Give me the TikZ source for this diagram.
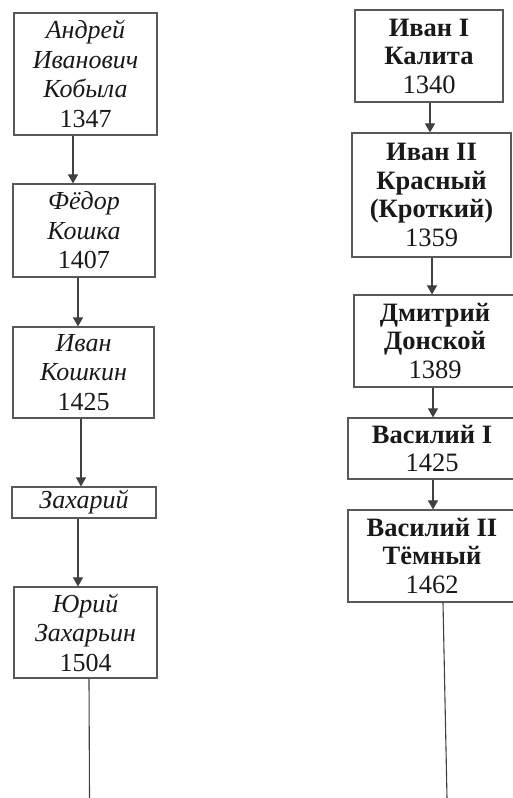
\documentclass[tikz,border=0pt]{standalone}
\usepackage{fontspec}
\setmainfont{Liberation Serif}
\usepackage{tikz}
\usetikzlibrary{arrows.meta}

\begin{document}
\begin{tikzpicture}[x=1pt,y=-1pt,
   famnode/.style n args={2}{draw=black!65,line width=1.2pt,inner sep=0pt,align=center,minimum width=#1pt,minimum height=#2pt,text=black!90,font=\fontsize{26}{29.5}\selectfont},
   lbox/.style 2 args={famnode={#1}{#2},font=\fontsize{26}{29.5}\selectfont\itshape},
   rbox/.style 2 args={famnode={#1}{#2},font=\fontsize{26.5}{28.5}\selectfont\bfseries},
   descent/.style={draw=black!75,line width=1.1pt,-{Triangle[width=10pt,length=9pt]}}]
\useasboundingbox (0,0) rectangle (512,798);
% left line
\node[lbox={143}{122}] (kobyla) at (85.5,74) {Андрей\\Иванович\\Кобыла\\\upshape 1347};
\node[lbox={142}{93}] (koshka) at (84,230.5) {Фёдор\\Кошка\\\upshape 1407};
\node[lbox={141}{91}] (koshkin) at (83.5,372.5) {Иван\\Кошкин\\\upshape 1425};
\node[lbox={144}{31}] (zakhary) at (84,502.5) {Захарий};
\node[lbox={143}{91}] (yury) at (85.5,632.5) {Юрий\\Захарьин\\\upshape 1504};
% right line
\node[rbox={148}{92}] (kalita) at (429,56) {Иван I\\Калита\\\mdseries 1340};
\node[rbox={159}{124}] (krasny) at (431.5,195) {Иван II\\Красный\\(Кроткий)\\\mdseries 1359};
\node[rbox={162}{92}] (donskoy) at (435,341) {Дмитрий\\Донской\\\mdseries 1389};
\node[rbox={168}{61}] (vasilyA) at (432,448.5) {Василий I\\\mdseries 1425};
\node[rbox={168}{92}] (vasilyB) at (432,556) {Василий II\\Тёмный\\\mdseries 1462};
\coordinate (lend) at (89.5,798);
\coordinate (rend) at (447,798);
\foreach \a/\b/\s in %
{kobyla/koshka/-12.5,koshka/koshkin/-6,koshkin/zakhary/-2.5,zakhary/yury/-6,%
 kalita/krasny/1,krasny/donskoy/0.5,donskoy/vasilyA/-2,vasilyA/vasilyB/1} {
   \draw[descent] ([xshift=\s pt]\a.south) -- ([xshift=\s pt]\a.south |- \b.north);
}
\draw[draw=black!75,line width=1.1pt] ([xshift=3.5pt]yury.south) -- (lend);
\draw[draw=black!75,line width=1.1pt] ([xshift=11pt]vasilyB.south) -- (rend);
\end{tikzpicture}
\end{document}
